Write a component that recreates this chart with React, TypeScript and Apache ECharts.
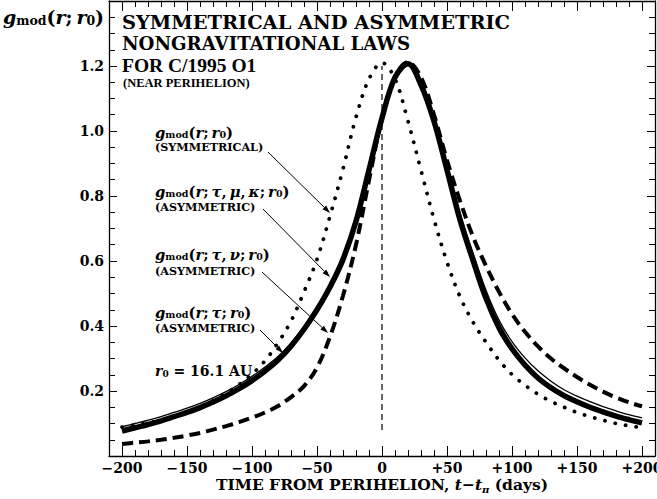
import React, { useEffect, useRef } from "react";
import * as echarts from "echarts";

const FONT = "'DejaVu Serif', serif";
const FONT2 = "'Liberation Serif', serif";

// ---- data (time from perihelion, days) ----
const days = [-200,-190,-180,-170,-160,-150,-140,-130,-120,-110,-100,-90,-80,-70,-60,-50,-40,-30,-20,-10,0,10,20,30,40,50,60,70,80,90,100,110,120,130,140,150,160,170,180,190,200];
// symmetrical law g(r; r0) (dotted)
const symG = [0.089,0.095,0.102,0.11,0.121,0.135,0.151,0.17,0.193,0.22,0.252,0.293,0.348,0.415,0.505,0.605,0.738,0.883,1.042,1.16,1.21,1.16,1.03,0.879,0.728,0.597,0.49,0.412,0.35,0.295,0.251,0.218,0.19,0.168,0.15,0.134,0.121,0.11,0.1,0.093,0.087];
// asymmetric law g(r; tau, mu, kappa; r0) (thick solid)
const tmkG = [0.077,0.087,0.097,0.108,0.121,0.134,0.149,0.166,0.185,0.207,0.232,0.261,0.295,0.338,0.39,0.45,0.52,0.605,0.722,0.88,1.04,1.165,1.207,1.142,1.03,0.88,0.727,0.602,0.485,0.395,0.33,0.28,0.24,0.21,0.186,0.167,0.15,0.136,0.123,0.112,0.102];
// asymmetric law g(r; tau; r0) (thin solid)
const tG = [0.09,0.1,0.11,0.121,0.134,0.147,0.162,0.179,0.198,0.22,0.245,0.274,0.306,0.348,0.398,0.457,0.526,0.61,0.726,0.882,1.04,1.165,1.207,1.146,1.038,0.895,0.747,0.625,0.51,0.418,0.352,0.302,0.262,0.23,0.204,0.184,0.167,0.152,0.139,0.127,0.117];
// asymmetric law g(r; tau, nu; r0) (dashed)
const tnG = [0.037,0.041,0.045,0.05,0.056,0.063,0.071,0.081,0.092,0.104,0.118,0.134,0.154,0.181,0.215,0.272,0.367,0.493,0.65,0.848,1.04,1.168,1.212,1.165,1.05,0.91,0.785,0.675,0.585,0.505,0.437,0.382,0.337,0.3,0.27,0.243,0.219,0.198,0.18,0.165,0.153];
// perihelion marker (vertical dashed)
const periT = [0, 0];
const periG = [0.08, 1.2];

const yTickLabels = ["0.2", "0.4", "0.6", "0.8", "1.0", "1.2"];

const titleLines = ["SYMMETRICAL AND ASYMMETRIC", "NONGRAVITATIONAL LAWS", "FOR C/1995 O1"];
const titleSub = "(NEAR PERIHELION)";

const zip = (a: number[], b: number[]) => a.map((v, i) => [v, b[i]]);

function mathRich(big: number, small: number) {
  const base = { fontFamily: FONT, fontWeight: "bold", fill: "#000", color: "#000" };
  return {
    g: { ...base, fontStyle: "italic", fontSize: big, lineHeight: big + 1 },
    i: { ...base, fontStyle: "italic", fontSize: big, lineHeight: big + 1 },
    p: { ...base, fontSize: big, lineHeight: big + 1 },
    sub: { ...base, fontSize: small, lineHeight: small, verticalAlign: "bottom" },
  };
}

function mathText(x: number, y: number, text: string, big = 14.8, small = 9.5) {
  return {
    type: "text",
    x,
    y,
    style: { text, rich: mathRich(big, small), fill: "#000", align: "left", verticalAlign: "middle" },
  };
}

function plainText(x: number, y: number, text: string, size: number, family = FONT) {
  return {
    type: "text",
    x,
    y,
    style: { text, fill: "#000", font: `bold ${size}px ${family}`, align: "left", verticalAlign: "middle" },
  };
}

function arrow(x1: number, y1: number, x2: number, y2: number) {
  const dx = x2 - x1, dy = y2 - y1;
  const len = Math.sqrt(dx * dx + dy * dy);
  const ux = dx / len, uy = dy / len;
  const L = 8, W = 2.6;
  const bx = x2 - ux * L, by = y2 - uy * L;
  return [
    { type: "line", shape: { x1, y1, x2: bx, y2: by }, style: { stroke: "#000", lineWidth: 1 } },
    { type: "polygon", shape: { points: [[x2, y2], [bx - uy * W, by + ux * W], [bx + uy * W, by - ux * W]] }, style: { fill: "#000" } },
  ];
}

const SP = "\u2009";
const G_SYM = `{g|g}{sub|mod}{p|(}{i|r}{p|;${SP}}{i|r}{sub|0}{p|)}`;
const G_TMK = `{g|g}{sub|mod}{p|(}{i|r}{p|;${SP}}{i|τ}{p|,${SP}}{i|μ}{p|,${SP}}{i|κ}{p|;${SP}}{i|r}{sub|0}{p|)}`;
const G_TN = `{g|g}{sub|mod}{p|(}{i|r}{p|;${SP}}{i|τ}{p|,${SP}}{i|ν}{p|;${SP}}{i|r}{sub|0}{p|)}`;
const G_T = `{g|g}{sub|mod}{p|(}{i|r}{p|;${SP}}{i|τ}{p|;${SP}}{i|r}{sub|0}{p|)}`;

export default function App() {
  const ref = useRef<HTMLDivElement>(null);
  useEffect(() => {
    document.body.style.margin = "0";
    const chart = echarts.init(ref.current!, undefined, { renderer: "svg" });
    const tickFmt = (v: number) => (v > 0 ? "+" + v : v < 0 ? "−" + Math.abs(v) : "0");
    const yFmt = (v: number) => {
      const s = v.toFixed(1);
      return yTickLabels.indexOf(s) >= 0 ? s : "";
    };
    const frameLine = { show: true, onZero: false, lineStyle: { color: "#000", width: 1.3 } };
    const labelStyle = { fontFamily: FONT, fontWeight: "bold", fontSize: 14, color: "#000" };
    const dataX = {
      type: "value",
      gridIndex: 1,
      min: -200,
      max: 200,
      interval: 50,
      axisLine: { show: false, onZero: false },
      axisTick: { show: true, inside: true, length: 10, lineStyle: { color: "#000", width: 1 } },
      minorTick: { show: true, splitNumber: 5, length: 6, lineStyle: { color: "#000", width: 1 } },
      splitLine: { show: false },
      minorSplitLine: { show: false },
    };
    const frameY = (position: string, labels: boolean) => ({
      type: "value",
      gridIndex: 0,
      min: 0,
      max: 1.4,
      interval: 0.2,
      position,
      axisLine: frameLine,
      axisTick: { show: true, inside: true, length: 8, lineStyle: { color: "#000", width: 1 } },
      minorTick: { show: true, splitNumber: 4, length: 6, lineStyle: { color: "#000", width: 1 } },
      axisLabel: labels ? { show: true, formatter: yFmt, margin: 5, ...labelStyle } : { show: false },
      splitLine: { show: false },
      minorSplitLine: { show: false },
    });
    const lineSeries = (t: number[], g: number[], lineStyle: any, z: number, smooth = 0.35) => ({
      type: "line",
      xAxisIndex: 2,
      yAxisIndex: 2,
      data: zip(t, g),
      symbol: "none",
      showSymbol: false,
      smooth,
      lineStyle: { color: "#000", ...lineStyle },
      z,
      silent: true,
    });

    const graphics: any[] = [
      mathText(3, 17, G_SYM, 19, 12.5),
      plainText(122, 22, titleLines[0], 19.4),
      plainText(122, 43.5, titleLines[1], 18.2),
      plainText(122, 65, titleLines[2], 19.5, FONT2),
      plainText(123, 82.5, titleSub, 12.5, FONT2),
      mathText(155, 132, G_SYM),
      plainText(155, 147, "(SYMMETRICAL)", 11.2),
      mathText(155, 191, G_TMK),
      plainText(155, 207, "(ASYMMETRIC)", 11.2),
      mathText(155, 254, G_TN),
      plainText(155, 271, "(ASYMMETRIC)", 11.2),
      mathText(155, 312, G_T),
      plainText(155, 328, "(ASYMMETRIC)", 11.2),
      mathText(155, 371, "{i|r}{sub|0}{p| = 16.1 AU}", 14, 9),
      ...arrow(268, 152, 330, 213),
      ...arrow(263, 209, 330, 277),
      ...arrow(262, 272, 328, 333),
      ...arrow(260, 330, 283, 353),
      {
        type: "text",
        x: 382,
        y: 484,
        style: {
          text: "{b|TIME FROM PERIHELION, }{i|t}{b|−}{i|t}{isub|π}{b| (days)}",
          rich: {
            b: { fontFamily: FONT, fontWeight: "bold", fontSize: 15.5, lineHeight: 20 },
            i: { fontFamily: FONT, fontStyle: "italic", fontWeight: "bold", fontSize: 15.5, lineHeight: 20 },
            isub: { fontFamily: FONT, fontStyle: "italic", fontWeight: "bold", fontSize: 10, lineHeight: 12, verticalAlign: "bottom" },
          },
          fill: "#000",
          align: "center",
          verticalAlign: "middle",
        },
      },
    ];

    chart.setOption({
      animation: false,
      backgroundColor: "#fff",
      grid: [
        { left: 109, top: 1, width: 546, height: 455, containLabel: false, outerBoundsMode: "none" },
        { left: 122, top: 1, width: 520, height: 455, containLabel: false, outerBoundsMode: "none" },
      ],
      xAxis: [
        { type: "value", gridIndex: 0, min: -210, max: 210, position: "bottom", axisLine: frameLine, axisTick: { show: false }, axisLabel: { show: false }, splitLine: { show: false } },
        { type: "value", gridIndex: 0, min: -210, max: 210, position: "top", axisLine: frameLine, axisTick: { show: false }, axisLabel: { show: false }, splitLine: { show: false } },
        { ...dataX, position: "bottom", axisLabel: { show: true, formatter: tickFmt, margin: 5, ...labelStyle } },
        { ...dataX, position: "top", axisLabel: { show: false } },
      ],
      yAxis: [
        frameY("left", true),
        frameY("right", false),
        { type: "value", gridIndex: 1, min: 0, max: 1.4, show: false, axisLine: { onZero: false }, splitLine: { show: false } },
      ],
      series: [
        lineSeries(periT, periG, { width: 1.2, type: [6, 4] }, 1, 0),
        lineSeries(days, symG, { width: 3.8, type: [0.1, 10.5], cap: "round" }, 2),
        lineSeries(days, tnG, { width: 4, type: [11, 6], cap: "butt" }, 3),
        lineSeries(days, tmkG, { width: 5.5 }, 4),
        lineSeries(days, tG, { width: 1.3 }, 5),
      ],
      graphic: graphics,
    });
    return () => chart.dispose();
  }, []);
  return <div ref={ref} style={{ width: 657, height: 499 }} />;
}
